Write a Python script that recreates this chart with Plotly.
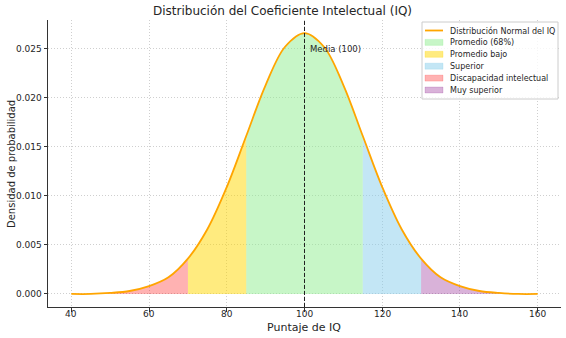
import plotly.graph_objects as go

# IQ scores and the probability density read at each score
iq = [40, 45, 50, 55, 60, 65, 70, 75, 80, 85, 90, 95, 100,
      105, 110, 115, 120, 125, 130, 135, 140, 145, 150, 155, 160]
density = [0.0000, 0.0000, 0.0001, 0.0003, 0.0008, 0.0017, 0.0036, 0.0066, 0.0109,
           0.0161, 0.0213, 0.0252, 0.0266, 0.0252, 0.0213, 0.0161, 0.0109, 0.0066,
           0.0036, 0.0017, 0.0008, 0.0003, 0.0001, 0.0000, 0.0000]

# Shaded ranges: (label, start, end, fill colour), in legend order
regions = [
    ("Promedio (68%)", 85, 115, "rgba(144,238,144,0.5)"),
    ("Promedio bajo", 70, 85, "rgba(255,215,0,0.5)"),
    ("Superior", 115, 130, "rgba(135,206,235,0.5)"),
    ("Discapacidad intelectual", 40, 70, "rgba(255,0,0,0.3)"),
    ("Muy superior", 130, 160, "rgba(128,0,128,0.3)"),
]
curve_label = "Distribución Normal del IQ"
curve_color = "#FFA500"
mean_iq = 100

x_ticks = [40, 60, 80, 100, 120, 140, 160]
y_ticks = [0, 0.005, 0.01, 0.015, 0.02, 0.025]

FONT = "DejaVu Sans"
TXT = "#262626"
W, H = 566, 338
L, R, T, B = 48, 5, 20, 31
PW, PH = W - L - R, H - T - B


def px_x(p):
    return (p - L) / PW


def px_y(p):
    return (H - B - p) / PH


fig = go.Figure()

for label, lo, hi, color in regions:
    xs = [x for x in iq if lo <= x <= hi]
    ys = [d for x, d in zip(iq, density) if lo <= x <= hi]
    fig.add_trace(go.Scatter(
        x=xs, y=ys, mode="lines", name=label, fill="tozeroy",
        fillcolor=color, line=dict(width=0, shape="spline", color=color),
        showlegend=False, hoverinfo="skip",
    ))

fig.add_trace(go.Scatter(
    x=iq, y=density, mode="lines", name=curve_label, showlegend=False,
    line=dict(color=curve_color, width=1.8, shape="spline"),
))

# mean marker
fig.add_shape(type="line", x0=mean_iq, x1=mean_iq, y0=0, y1=1, yref="paper",
              line=dict(color="#222", width=1, dash="4px,2px"), layer="above")
fig.add_annotation(x=mean_iq + 1, y=0.025, text=f"Media ({mean_iq})", showarrow=False,
                   xanchor="left", yanchor="middle",
                   font=dict(family=FONT, size=8.5, color=TXT))

# legend box drawn in paper coordinates
fig.add_shape(type="rect", xref="paper", yref="paper",
              x0=px_x(422), x1=px_x(558), y0=px_y(99), y1=px_y(22),
              line=dict(color="#cccccc", width=1), fillcolor="rgba(255,255,255,0.8)",
              layer="above")
entries = [(curve_label, None)] + [(lab, col) for lab, _, _, col in regions]
for i, (label, color) in enumerate(entries):
    yc = 30.5 + i * 11.9
    if color is None:
        fig.add_shape(type="line", xref="paper", yref="paper",
                      x0=px_x(425), x1=px_x(443), y0=px_y(yc), y1=px_y(yc),
                      line=dict(color=curve_color, width=1.8), layer="above")
    else:
        fig.add_shape(type="rect", xref="paper", yref="paper",
                      x0=px_x(425), x1=px_x(443), y0=px_y(yc + 3), y1=px_y(yc - 3),
                      line=dict(color=color, width=0.5), fillcolor=color, layer="above")
    fig.add_annotation(xref="paper", yref="paper", x=px_x(448), y=px_y(yc),
                       text=label, showarrow=False, xanchor="left", yanchor="middle",
                       font=dict(family=FONT, size=8, color=TXT))

# x tick labels sit close under the axis
for v in x_ticks:
    fig.add_annotation(x=v, xref="x", yref="paper", y=px_y(314.5), text=str(v),
                       showarrow=False, xanchor="center", yanchor="middle",
                       font=dict(family=FONT, size=9, color=TXT))

# title and axis titles
fig.add_annotation(xref="paper", yref="paper", x=px_x(282), y=px_y(11.5),
                   text="Distribución del Coeficiente Intelectual (IQ)", showarrow=False,
                   xanchor="center", yanchor="middle",
                   font=dict(family=FONT, size=12, color=TXT))
fig.add_annotation(xref="paper", yref="paper", x=px_x(304), y=px_y(327),
                   text="Puntaje de IQ", showarrow=False, xanchor="center", yanchor="middle",
                   font=dict(family=FONT, size=11, color=TXT))
fig.add_annotation(xref="paper", yref="paper", x=px_x(11), y=px_y(164),
                   text="Densidad de probabilidad", showarrow=False, textangle=-90,
                   xanchor="center", yanchor="middle",
                   font=dict(family=FONT, size=10, color=TXT))

axis_common = dict(
    showgrid=True, gridcolor="#cfcfcf", griddash="1px,2px", gridwidth=1,
    showline=True, linecolor="#333", linewidth=1,
    ticks="outside", ticklen=3.5, tickcolor="#333", automargin=False,
    zeroline=False, tickfont=dict(family=FONT, size=9, color=TXT),
)

fig.update_xaxes(range=[34, 166], tickvals=x_ticks, showticklabels=False, **axis_common)
fig.update_yaxes(range=[-0.00133, 0.02793], tickvals=y_ticks, tickformat=".3f",
                 **axis_common)

fig.update_layout(
    width=W, height=H,
    margin=dict(l=L, r=R, t=T, b=B),
    paper_bgcolor="white", plot_bgcolor="white",
    showlegend=False,
)

fig.write_html("out.html")
